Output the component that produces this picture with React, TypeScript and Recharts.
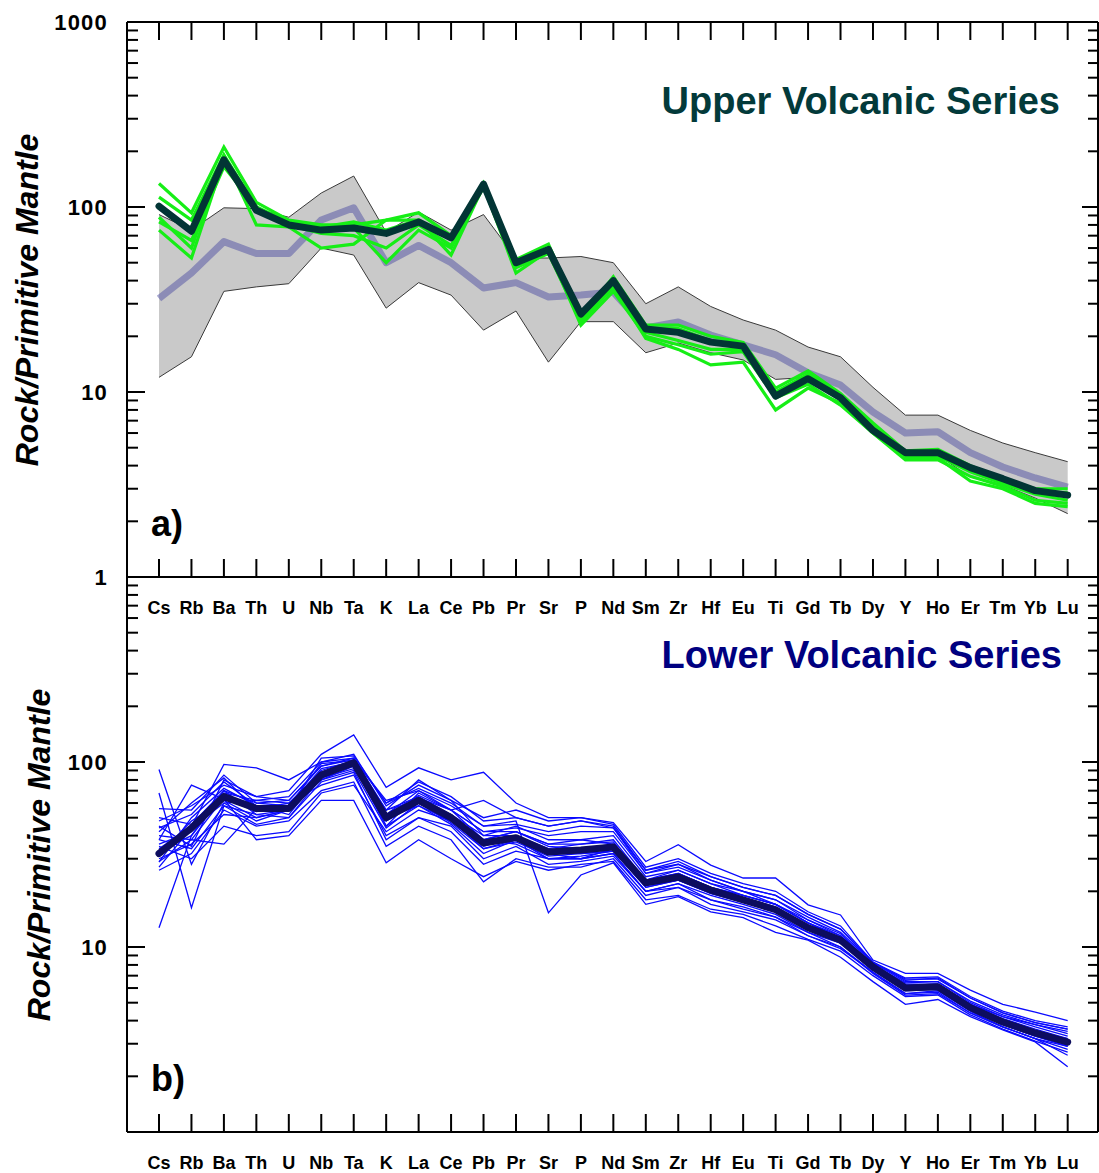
import React from 'react';
import { ComposedChart, Line, Area, XAxis, YAxis } from 'recharts';

const FONT = '"Liberation Sans", Arial, Helvetica, sans-serif';

const ELEMENTS = ['Cs','Rb','Ba','Th','U','Nb','Ta','K','La','Ce','Pb','Pr','Sr','P','Nd','Sm','Zr','Hf','Eu','Ti','Gd','Tb','Dy','Y','Ho','Er','Tm','Yb','Lu'];
const ELEMENT_INDEX = ELEMENTS.map((_, i) => i);
const Y_TICKS = [1,2,3,4,5,6,7,8,9,10,20,30,40,50,60,70,80,90,100,200,300,400,500,600,700,800,900,1000];
const MAJOR_TICKS = [1, 10, 100, 1000];
const TOP_Y_LABELS = [1, 10, 100, 1000];
const BOTTOM_Y_LABELS = [10, 100];

// Upper Volcanic Series
const UPPER_MEAN = [101,74,180,96,80,75,77,72,83,68,133,50,59,26.4,40,21.9,21,18.6,17.7,9.5,11.8,9.3,6.2,4.7,4.7,3.9,3.4,2.93,2.77];
const upperSample1 = [134,93,211,106,85,80,80,85,93,70,135,52,63,25,42,23,23,20,18.5,10.5,13,9.8,6.8,4.8,4.9,4.0,3.4,3.0,3.0];
const upperSample2 = [113,85,191,100,83,78,83,75,85,68,133,50,60,26,40,22,22,19,18,10,12.5,9.5,6.5,4.6,4.7,3.9,3.3,2.9,2.85];
const upperSample3 = [88,60,190,80,78,60,63,85,85,55,130,44,58,23,35,20,18,16,16.5,9.3,11,8.5,6,4.3,4.3,3.5,3.1,2.6,2.5];
const upperSample4 = [83,66,165,100,80,72,70,60,80,62,128,47,56,24,37,19.5,17,14,14.5,8,10.5,8.7,6,4.4,4.4,3.3,3.0,2.5,2.4];
const upperSample5 = [75,53,180,96,80,77,77,50,75,60,132,48,60,25,38,21,19,17,17,9.5,12,9.2,6.3,4.5,4.5,3.7,3.2,2.8,2.6];
const UPPER_SAMPLES = [upperSample1, upperSample2, upperSample3, upperSample4, upperSample5];

// Lower Volcanic Series
const LOWER_MEAN = [32,44,65,56,56,85,99,50,62,50,36.5,39,32.6,33.4,34.7,22.2,23.9,20.3,18,15.9,12.7,10.9,7.8,6.0,6.1,4.7,3.93,3.43,3.06];
const LOWER_ENV_MAX = [91,75,99,98,88,119,147,73,94,75,91,53,53,54,50,30,37,29,24.5,21.6,17.5,15.5,10.6,7.5,7.5,6.2,5.3,4.7,4.2];
const LOWER_ENV_MIN = [12,15.5,35,37,38.5,60,55,28.4,39,33.4,21.6,27.4,14.5,24,24,16.3,18.4,16.3,14.9,11.7,12,9.4,6.2,4.45,4.55,3.47,3.14,2.67,2.2];

const lowerSample1 = [91,28,60,48,55,80,95,45,58,48,35,40,33,32,33,22,24,20,18,16,13,11,7.8,6.0,6.2,4.8,4.0,3.4,3.0];
const lowerSample2 = [12.7,40,70,60,58,88,100,55,65,52,38,42,35,34,36,23,25,21,19,17,13.5,11.5,8.0,6.2,6.3,4.9,4.1,3.6,3.2];
const lowerSample3 = [68,16.3,58,52,50,82,98,50,60,47,34,38,30,31,33,21,23,19.5,17.5,15.5,12.4,10.5,7.6,5.9,6.0,4.6,3.8,3.3,2.9];
const lowerSample4 = [56,55,85,60,62,95,105,60,72,60,45,46,42,45,44,26,28,24,21,19,15,12.5,8.3,6.6,6.8,5.3,4.4,3.9,3.6];
const lowerSample5 = [45,35,80,65,70,110,140,73,93,80,88,60,50,50,47,29,35.7,27.7,23.6,23.6,16.9,14.9,8.5,7.2,7.2,5.85,4.9,4.45,4.0];
const lowerSample6 = [40,38,36,56,60,75,85,40,50,45,30,35,28,29,31,20,22,18,16.5,14.5,12,10,7.3,5.6,5.8,4.5,3.7,3.2,2.8];
const lowerSample7 = [38,75,63,38,40,62,62,28.5,38,30,24,29,26,28,29,18,19,16,15,13,11,9.5,7,5.4,5.5,4.3,3.6,3.1,2.7];
const lowerSample8 = [34,45,97,93,80,100,105,55,80,62,40,45,38,38,40,24,26,22,20,18,14.5,12,8.2,6.5,6.5,5.0,4.2,3.7,3.3];
const lowerSample9 = [31.6,48,62,50,55,90,102,48,64,55,62,50,45,48,44,25,27,23,20,17,14,11.5,8.0,6.3,6.3,4.9,4.2,3.8,3.5];
const lowerSample10 = [28.8,50,72,58,52,85,98,52,70,58,45,48,15.3,24.5,28.5,17,18.7,15.5,14.4,12,10.9,8.8,6.5,4.9,5.2,4.2,3.56,3.07,2.25];
const lowerSample11 = [26,32,55,45,48,70,78,35,45,38,22.5,30,27,27,30,19,21,17,15.5,14,11.5,10,7.2,5.5,5.6,4.4,3.7,3.2,2.9];
const lowerSample12 = [36,42,68,62,65,100,110,58,75,62,50,55,48,50,46,27,30,25,22,20,15.5,13,8.3,6.8,6.9,5.4,4.5,4.0,3.7];
const lowerSample13 = [42,60,82,55,58,92,100,45,68,55,38,42,36,38,36,23,26,22,19,17,13.5,11,7.8,6.0,6.1,4.7,3.9,3.4,3.1];
const lowerSample14 = [35,30,45,40,42,68,75,42,55,48,38,36,30,30,32,20,22,19,17,15,12,10.5,7.5,5.8,5.9,4.6,3.8,3.3,2.95];
const lowerSample15 = [48,58,75,65,62,95,103,62,70,55,42,44,40,42,42,25,28,23,20,18,14,11.8,8.0,6.4,6.5,5.1,4.3,3.8,3.4];
const lowerSample16 = [30,36,52,50,55,82,92,50,58,46,32,38,32,30,34,21,23,20,18,16,12.5,10.8,7.7,6.0,6.0,4.7,3.9,3.5,3.1];
const lowerSample17 = [27,44,60,62,60,88,95,55,62,52,40,40,34,36,37,22,25,21,18.5,16.5,13,11,7.9,6.1,6.2,4.8,4.0,3.5,3.2];
const lowerSample18 = [33,40,66,55,58,98,102,48,60,50,36,38,32,33,35,22,24,20,17.5,15.5,12.5,10.6,7.6,5.9,6.0,4.6,3.85,3.35,3.0];
const lowerSample19 = [44,52,78,58,55,105,108,60,78,65,48,50,45,48,45,26,29,24,21,19,15,12.5,8.2,6.7,6.7,5.3,4.4,3.9,3.6];
const lowerSample20 = [38,34,58,46,50,78,88,38,50,42,28,33,30,30,32,20,21,18,16,14.5,11.5,9.8,7.3,5.6,5.7,4.4,3.7,3.2,2.6];
const lowerSample21 = [50,46,70,52,55,85,96,52,66,55,42,42,36,36,38,23,25,21,19,17,13.5,11.2,7.9,6.2,6.3,4.9,4.0,3.5,3.15];
const lowerSample22 = [29,38,64,54,57,80,90,44,60,49,34,37,31,32,33,21.5,23,19.5,17.5,15.5,12.4,10.6,7.7,5.95,6.0,4.65,3.9,3.4,3.05];
const LOWER_SAMPLES = [lowerSample1, lowerSample2, lowerSample3, lowerSample4, lowerSample5, lowerSample6, lowerSample7, lowerSample8, lowerSample9, lowerSample10, lowerSample11, lowerSample12, lowerSample13, lowerSample14, lowerSample15, lowerSample16, lowerSample17, lowerSample18, lowerSample19, lowerSample20, lowerSample21, lowerSample22];

const topRows = ELEMENTS.map((el, i) => {
  const row: any = { idx: i, el, upperMean: UPPER_MEAN[i], lowerMean: LOWER_MEAN[i], env: [LOWER_ENV_MIN[i], LOWER_ENV_MAX[i]] };
  UPPER_SAMPLES.forEach((s, k) => { row['g' + k] = s[i]; });
  return row;
});

const bottomRows = ELEMENTS.map((el, i) => {
  const row: any = { idx: i, el, lowerMean: LOWER_MEAN[i] };
  LOWER_SAMPLES.forEach((s, k) => { row['b' + k] = s[i]; });
  return row;
});

const X_DOMAIN = [-0.986, 28.934];
const W = 1099;

const XTick = (props: any) => {
  const { x, y, payload, dir, showLabel } = props;
  return (
    <g>
      <line x1={x} x2={x} y1={y} y2={y + dir * 18} stroke="#000" strokeWidth={2} />
      {showLabel && (
        <text x={x} y={y + 37} textAnchor="middle" fontFamily={FONT} fontWeight="bold" fontSize={18} fill="#000">
          {ELEMENTS[payload.value]}
        </text>
      )}
    </g>
  );
};

const YTick = (props: any) => {
  const { x, y, payload, side, labels } = props;
  const v = payload.value;
  const major = MAJOR_TICKS.includes(v);
  const len = side === 'left' ? (major ? 18 : 11) : (major ? 16 : 10);
  const dx = side === 'left' ? len : -len;
  return (
    <g>
      <line x1={x} x2={x + dx} y1={y} y2={y} stroke="#000" strokeWidth={2} />
      {side === 'left' && labels && labels.includes(v) && (
        <text x={x - 19} y={y} dy="0.36em" textAnchor="end" fontFamily={FONT} fontWeight="bold" fontSize={22} letterSpacing={1.2} fill="#000">
          {v}
        </text>
      )}
    </g>
  );
};

const axisLine = { stroke: '#000', strokeWidth: 2 };

function TopPanel() {
  return (
    <ComposedChart width={W} height={640} data={topRows} margin={{ top: 21, right: 0, bottom: 62, left: 126 }}>
      <XAxis dataKey="idx" type="number" domain={X_DOMAIN} ticks={ELEMENT_INDEX} interval={0} allowDataOverflow height={1} tickSize={0} tickMargin={0} axisLine={axisLine} tickLine={false}
        tick={(p: any) => <XTick {...p} dir={-1} showLabel />} />
      <XAxis xAxisId="top" orientation="top" dataKey="idx" type="number" domain={X_DOMAIN} ticks={ELEMENT_INDEX} interval={0} allowDataOverflow height={1} tickSize={0} tickMargin={0} axisLine={axisLine} tickLine={false}
        tick={(p: any) => <XTick {...p} dir={1} />} />
      <YAxis type="number" scale="log" domain={[1, 1000]} allowDataOverflow ticks={Y_TICKS} interval={0} width={1} tickSize={0} tickMargin={0} axisLine={axisLine} tickLine={false}
        tick={(p: any) => <YTick {...p} side="left" labels={TOP_Y_LABELS} />} />
      <YAxis yAxisId="right" orientation="right" type="number" scale="log" domain={[1, 1000]} allowDataOverflow ticks={Y_TICKS} interval={0} width={1} tickSize={0} tickMargin={0} axisLine={axisLine} tickLine={false}
        tick={(p: any) => <YTick {...p} side="right" />} />
      <Area dataKey="env" type="linear" stroke="#3a3a3a" strokeWidth={1} fill="#c9c9c9" fillOpacity={1} isAnimationActive={false} dot={false} activeDot={false} />
      <Line dataKey="lowerMean" type="linear" stroke="#5a5aa6" strokeOpacity={0.55} strokeWidth={7} dot={false} activeDot={false} isAnimationActive={false} strokeLinejoin="round" />
      {UPPER_SAMPLES.map((_, k) => (
        <Line key={k} dataKey={'g' + k} type="linear" stroke="#16ee16" strokeWidth={3.2} dot={false} activeDot={false} isAnimationActive={false} />
      ))}
      <Line dataKey="upperMean" type="linear" stroke="#023535" strokeWidth={7} dot={false} activeDot={false} isAnimationActive={false} strokeLinejoin="round" strokeLinecap="round" />
    </ComposedChart>
  );
}

function BottomPanel() {
  return (
    <ComposedChart width={W} height={1173} data={bottomRows} margin={{ top: 577, right: 0, bottom: 40, left: 126 }}>
      <XAxis dataKey="idx" type="number" domain={X_DOMAIN} ticks={ELEMENT_INDEX} interval={0} allowDataOverflow height={1} tickSize={0} tickMargin={0} axisLine={axisLine} tickLine={false}
        tick={(p: any) => <XTick {...p} dir={-1} showLabel />} />
      <YAxis type="number" scale="log" domain={[1, 1000]} allowDataOverflow ticks={Y_TICKS} interval={0} width={1} tickSize={0} tickMargin={0} axisLine={axisLine} tickLine={false}
        tick={(p: any) => <YTick {...p} side="left" labels={BOTTOM_Y_LABELS} />} />
      <YAxis yAxisId="right" orientation="right" type="number" scale="log" domain={[1, 1000]} allowDataOverflow ticks={Y_TICKS} interval={0} width={1} tickSize={0} tickMargin={0} axisLine={axisLine} tickLine={false}
        tick={(p: any) => <YTick {...p} side="right" />} />
      {LOWER_SAMPLES.map((_, k) => (
        <Line key={k} dataKey={'b' + k} type="linear" stroke="#0a0aff" strokeWidth={1.3} dot={false} activeDot={false} isAnimationActive={false} />
      ))}
      <Line dataKey="lowerMean" type="linear" stroke="#0d0d5e" strokeWidth={7} dot={false} activeDot={false} isAnimationActive={false} strokeLinejoin="round" strokeLinecap="round" />
    </ComposedChart>
  );
}

export default function App() {
  return (
    <div style={{ position: 'absolute', left: 0, top: 0, width: W, height: 1173, background: '#fff', overflow: 'hidden' }}>
      <div style={{ position: 'absolute', left: 0, top: 0 }}>
        <TopPanel />
      </div>
      <div style={{ position: 'absolute', left: 0, top: 0 }}>
        <BottomPanel />
      </div>
      <svg width={W} height={1173} style={{ position: 'absolute', left: 0, top: 0, pointerEvents: 'none' }}>
        <text x={1060} y={114} textAnchor="end" fontFamily={FONT} fontWeight="bold" fontSize={38} fill="#033a3a">Upper Volcanic Series</text>
        <text x={1062} y={668} textAnchor="end" fontFamily={FONT} fontWeight="bold" fontSize={38} fill="#000080">Lower Volcanic Series</text>
        <text x={151} y={536} fontFamily={FONT} fontWeight="bold" fontSize={36} fill="#000">a)</text>
        <text x={151} y={1091} fontFamily={FONT} fontWeight="bold" fontSize={36} fill="#000">b)</text>
        <text x={38} y={300} transform="rotate(-90 38 300)" textAnchor="middle" fontFamily={FONT} fontWeight="bold" fontStyle="italic" fontSize={32} fill="#000">Rock/Primitive Mantle</text>
        <text x={50} y={855} transform="rotate(-90 50 855)" textAnchor="middle" fontFamily={FONT} fontWeight="bold" fontStyle="italic" fontSize={32} fill="#000">Rock/Primitive Mantle</text>
      </svg>
    </div>
  );
}
